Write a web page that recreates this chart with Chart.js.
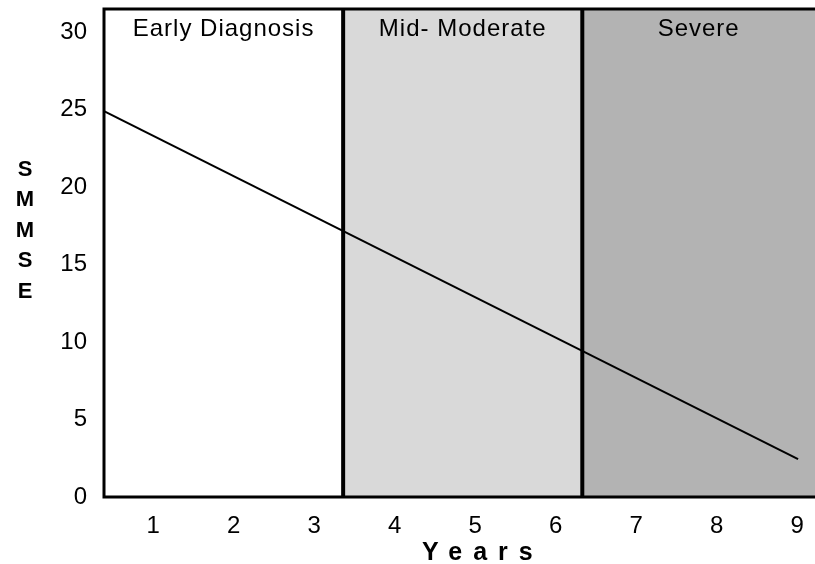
<!DOCTYPE html>
<html>
<head>
<meta charset="utf-8">
<script src="https://cdn.jsdelivr.net/npm/chart.js@4.4.1/dist/chart.umd.min.js"></script>
<style>
    body { margin: 0; background: #fff; }
    #wrap { width: 815px; height: 564px; }
</style>
</head>
<body>
<div id="wrap"><canvas id="mmseChart" width="815" height="564"></canvas></div>
<script>
// SMMSE decline over the years
const years = [0.39, 9.01];
const smmse = [24.9, 2.45];

// Disease stages shown as background bands
const stageNames = ['Early Diagnosis', 'Mid- Moderate', 'Severe'];
const stageStarts = [0.39, 3.36, 6.33];
const stageEnds = [3.36, 6.33, 9.22];
const stageColors = ['#ffffff', '#d9d9d9', '#b3b3b3'];

// Axis ticks and titles
const xTicks = [1, 2, 3, 4, 5, 6, 7, 8, 9];
const yTicks = [0, 5, 10, 15, 20, 25, 30];
const xTitle = 'Years';
const yTitle = 'SMMSE';

const FONT = '"Liberation Sans", Arial, Helvetica, sans-serif';

// Background bands, stage names and divider lines
const stageBands = {
    id: 'stageBands',
    beforeDatasetsDraw(chart) {
        const { ctx, chartArea } = chart;
        const x = chart.scales.x;
        ctx.save();
        stageNames.forEach((name, i) => {
            const x0 = Math.max(x.getPixelForValue(stageStarts[i]), chartArea.left);
            const x1 = Math.min(x.getPixelForValue(stageEnds[i]), chartArea.right);
            ctx.fillStyle = stageColors[i];
            ctx.fillRect(x0, chartArea.top, x1 - x0, chartArea.bottom - chartArea.top);

            ctx.fillStyle = '#000';
            ctx.font = '24px ' + FONT;
            ctx.letterSpacing = '1px';
            ctx.textAlign = 'center';
            ctx.textBaseline = 'alphabetic';
            ctx.fillText(name, (x0 + x1) / 2, chartArea.top + 27);
        });
        ctx.letterSpacing = '0px';

        // thick dividers between stages
        ctx.strokeStyle = '#000';
        ctx.lineWidth = 4;
        stageStarts.slice(1).forEach(v => {
            const px = x.getPixelForValue(v);
            ctx.beginPath();
            ctx.moveTo(px, chartArea.top);
            ctx.lineTo(px, chartArea.bottom);
            ctx.stroke();
        });
        ctx.restore();
    },
    afterDatasetsDraw(chart) {
        const { ctx, chartArea } = chart;
        ctx.save();
        // frame: top, left and bottom (right side runs off the picture)
        ctx.strokeStyle = '#000';
        ctx.lineWidth = 3;
        ctx.beginPath();
        ctx.moveTo(chartArea.right, chartArea.top);
        ctx.lineTo(chartArea.left, chartArea.top);
        ctx.lineTo(chartArea.left, chartArea.bottom);
        ctx.lineTo(chartArea.right, chartArea.bottom);
        ctx.stroke();

        // stacked y title letters
        ctx.fillStyle = '#000';
        ctx.font = 'bold 22px ' + FONT;
        ctx.textAlign = 'center';
        ctx.textBaseline = 'alphabetic';
        yTitle.split('').forEach((ch, i) => {
            ctx.fillText(ch, 25, 176 + i * 30.4);
        });

        // spaced x title
        ctx.font = 'bold 25px ' + FONT;
        ctx.letterSpacing = '11px';
        ctx.textAlign = 'left';
        ctx.fillText(xTitle, 422, 560);
        ctx.restore();
    }
};

const ctx = document.getElementById('mmseChart').getContext('2d');
new Chart(ctx, {
    type: 'scatter',
    data: {
        datasets: [{
            data: years.map((v, i) => ({ x: v, y: smmse[i] })),
            showLine: true,
            borderColor: '#000',
            borderWidth: 2,
            pointRadius: 0,
            fill: false
        }]
    },
    options: {
        responsive: false,
        animation: false,
        layout: {
            padding: { top: 9, right: 0, bottom: 0, left: 0 }
        },
        scales: {
            x: {
                type: 'linear',
                min: stageStarts[0],
                max: stageEnds[stageEnds.length - 1],
                afterBuildTicks: s => { s.ticks = xTicks.map(v => ({ value: v })); },
                afterFit: s => {
                    s.height = 67;
                    s.paddingLeft = 0;
                    s.paddingRight = 0;
                },
                grid: { display: false, drawTicks: false },
                border: { display: false },
                ticks: {
                    color: '#000',
                    padding: 15,
                    maxRotation: 0,
                    autoSkip: false,
                    font: { family: FONT, size: 24 }
                }
            },
            y: {
                min: 0,
                max: 31.5,
                afterBuildTicks: s => { s.ticks = yTicks.map(v => ({ value: v })); },
                afterFit: s => {
                    s.width = 104;
                    s.paddingTop = 0;
                    s.paddingBottom = 0;
                },
                grid: { display: false, drawTicks: false },
                border: { display: false },
                ticks: {
                    color: '#000',
                    padding: 17,
                    font: { family: FONT, size: 24 }
                }
            }
        },
        plugins: {
            legend: { display: false },
            tooltip: { enabled: false }
        }
    },
    plugins: [stageBands]
});
</script>
</body>
</html>
